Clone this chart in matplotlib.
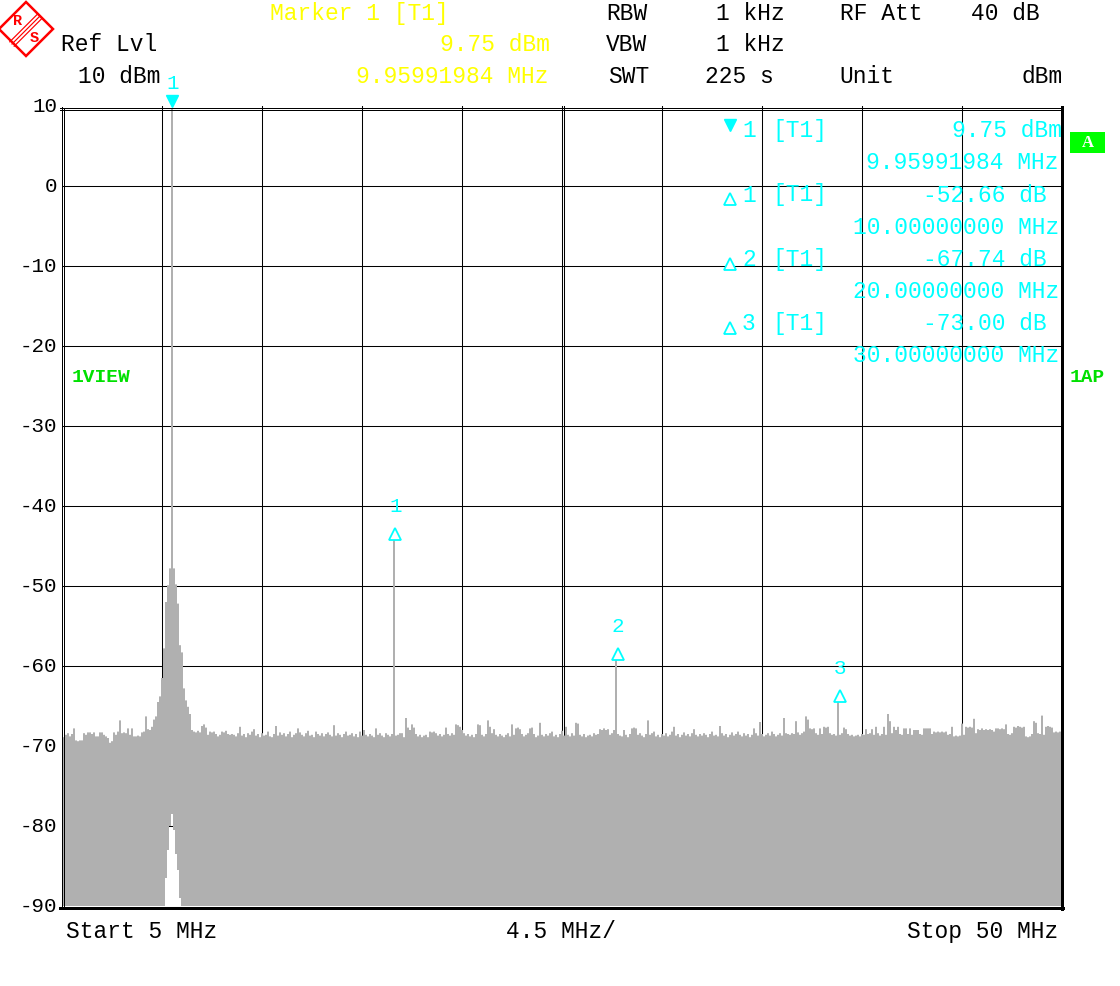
import numpy as np
import matplotlib
matplotlib.use("Agg")
import matplotlib.pyplot as plt
from matplotlib.patches import Polygon, Rectangle

# ---------------- data ----------------
start_mhz, stop_mhz = 5.0, 50.0
div_mhz = 4.5
n_points = 501
ref_level, bottom_level = 10, -90

trace_dbm = [
    -68.8, -68.9, -68.6, -68.4, -68.8, -68.5, -67.8, -69.3, -69.4, -69.3, -69.3, -68.4, -68.6, -68.3, -68.3, -68.5, -68.3, -68.8, -68.8, -68.3,
    -68.3, -68.6, -68.8, -69.0, -69.6, -69.4, -68.3, -68.6, -68.2, -66.8, -68.4, -68.3, -68.4, -67.8, -68.6, -67.8, -68.8, -68.8, -68.7, -68.8,
    -68.3, -68.2, -66.3, -67.9, -68.0, -67.6, -66.7, -66.3, -64.5, -63.8, -61.5, -57.8, -52.0, -49.9, -47.8, 9.75, -47.8, -49.8, -52.2, -57.4,
    -58.3, -62.8, -64.3, -65.1, -66.0, -68.0, -68.2, -68.3, -68.1, -68.3, -67.5, -67.3, -67.7, -68.6, -68.2, -68.3, -68.2, -68.5, -68.8, -68.6,
    -68.2, -68.3, -68.1, -68.5, -68.6, -68.5, -68.6, -68.8, -68.4, -67.6, -68.7, -68.5, -68.9, -68.4, -68.6, -68.2, -67.9, -68.7, -68.5, -68.9,
    -68.4, -68.7, -68.6, -68.2, -68.8, -68.9, -68.5, -67.5, -68.7, -68.3, -68.6, -68.4, -68.8, -68.5, -68.2, -68.9, -68.6, -68.4, -67.8, -68.3,
    -68.6, -68.8, -68.4, -68.1, -68.7, -68.6, -68.9, -68.2, -68.5, -68.7, -68.4, -68.8, -68.5, -68.3, -68.6, -68.8, -67.4, -68.7, -68.4, -68.6,
    -68.9, -68.5, -68.2, -68.7, -68.6, -68.4, -68.8, -68.5, -68.9, -68.2, -68.7, -68.0, -68.6, -68.8, -68.5, -68.7, -68.9, -67.8, -68.6, -68.4,
    -68.7, -68.9, -68.4, -68.6, -68.8, -68.5, -44.1, -68.7, -68.6, -68.4, -68.4, -68.9, -66.5, -67.7, -68.0, -67.3, -67.7, -68.5, -68.8, -68.6,
    -68.9, -68.7, -68.6, -68.9, -68.2, -68.3, -68.2, -68.4, -68.7, -68.5, -68.8, -68.6, -67.7, -68.5, -68.7, -68.4, -68.6, -67.3, -67.4, -67.6,
    -68.0, -68.4, -68.7, -68.5, -68.8, -68.6, -68.9, -68.5, -67.3, -67.4, -68.6, -68.8, -68.5, -66.8, -67.6, -68.4, -67.9, -68.6, -68.8, -68.5,
    -68.7, -68.9, -68.6, -68.4, -68.8, -67.3, -68.6, -67.8, -67.7, -67.9, -68.5, -68.8, -68.6, -68.4, -67.8, -67.7, -68.5, -68.9, -68.7, -67.1,
    -68.6, -68.8, -68.5, -68.7, -68.4, -68.2, -68.8, -68.6, -68.9, -68.5, -68.1, -68.7, -67.6, -68.6, -68.8, -68.4, -68.7, -67.1, -67.2, -68.6,
    -68.8, -68.5, -68.9, -68.7, -68.6, -68.8, -68.4, -68.6, -68.5, -67.9, -68.0, -67.8, -68.0, -67.9, -68.6, -68.4, -68.0, -59.1, -68.5, -68.7,
    -68.8, -68.0, -68.6, -68.9, -68.5, -67.8, -67.7, -67.8, -68.6, -68.4, -68.7, -68.9, -68.5, -66.8, -68.6, -68.4, -68.2, -68.8, -68.6, -68.9,
    -68.5, -68.7, -68.4, -68.8, -68.6, -68.2, -67.6, -68.7, -68.5, -68.9, -68.6, -68.3, -68.7, -68.5, -68.8, -68.4, -67.9, -68.6, -68.8, -68.5,
    -68.7, -68.4, -68.6, -68.9, -68.5, -68.2, -68.7, -68.6, -68.8, -67.5, -68.4, -68.7, -68.5, -68.9, -68.6, -68.3, -68.7, -68.5, -68.2, -68.6,
    -68.8, -68.4, -68.7, -68.5, -68.9, -68.6, -67.8, -68.4, -68.7, -67.0, -68.5, -68.8, -68.6, -68.4, -68.7, -68.2, -68.5, -68.8, -68.6, -68.4,
    -68.7, -66.5, -68.4, -68.5, -68.6, -68.4, -68.5, -66.9, -68.3, -68.6, -68.4, -68.2, -66.3, -66.7, -67.8, -67.9, -67.8, -68.4, -68.6, -67.8,
    -68.5, -67.6, -67.7, -67.6, -68.4, -68.6, -68.5, -68.7, -64.5, -68.6, -68.4, -67.7, -67.9, -68.5, -68.7, -68.6, -68.8, -68.7, -68.6, -68.8,
    -68.5, -68.6, -67.9, -68.5, -68.4, -67.9, -68.6, -67.6, -68.4, -68.7, -68.5, -67.6, -68.6, -66.0, -66.9, -68.4, -67.6, -68.0, -67.6, -68.5,
    -68.6, -67.8, -67.8, -68.5, -67.8, -68.6, -68.0, -68.0, -68.0, -68.5, -68.6, -67.8, -67.8, -67.8, -67.8, -68.5, -68.2, -68.3, -68.2, -68.3,
    -68.2, -68.3, -68.2, -68.6, -68.5, -67.6, -68.8, -68.7, -68.8, -68.7, -67.2, -68.6, -67.6, -67.7, -67.6, -67.7, -66.6, -68.4, -67.9, -68.0,
    -67.8, -68.0, -67.9, -68.0, -67.9, -68.0, -68.2, -67.8, -67.8, -67.9, -67.8, -67.9, -67.3, -68.5, -68.6, -68.4, -67.6, -67.7, -67.5, -67.6,
    -67.7, -67.6, -68.8, -68.9, -68.8, -68.5, -66.9, -67.1, -68.4, -68.5, -66.2, -68.6, -67.6, -67.5, -67.6, -67.7, -68.3, -68.2, -68.3, -68.2,
    -68.3,
]
# white notch (second trace) under the carrier, bins 51..59
notch_start_bin = 51
notch_dbm = [-90.0, -86.5, -83.0, -80.0, -78.5, -80.5, -83.5, -85.5, -89.0]

y_ticks = [10, 0, -10, -20, -30, -40, -50, -60, -70, -80, -90]
y_ticklabels = ["10", "0", "-10", "-20", "-30", "-40", "-50", "-60", "-70", "-80", "-90"]

# marker symbols (positions of the symbols as seen on screen)
main_marker_freq, main_marker_sym_level = 9.95991984, 10.6
delta_freqs = [20.0, 30.0, 40.0]
delta_sym_levels = [-43.5, -58.5, -63.75]
delta_names = ["1", "2", "3"]

# marker table
table_ids = ["1", "1", "2", "3"]
table_values = ["9.75 dBm", "-52.66 dB", "-67.74 dB", "-73.00 dB"]
table_freqs = ["9.95991984 MHz", "10.00000000 MHz", "20.00000000 MHz", "30.00000000 MHz"]

# ---------------- figure ----------------
W, H = 1120, 986
fig = plt.figure(figsize=(W / 100, H / 100), dpi=100)
fig.patch.set_facecolor("white")
MONO = "Liberation Mono"
CYAN = "#00ffff"
YEL = "#ffff00"
GREEN = "#00e000"
FILL = "#b0b0b0"
FS = 16.5

ax = fig.add_axes([62 / W, (H - 906) / H, 1000 / W, 800 / H])
ax.set_facecolor("white")
for s in ax.spines.values():
    s.set_visible(False)
ax.set_xticks([])
ax.set_yticks(y_ticks)
ax.set_yticklabels(y_ticklabels, fontfamily=MONO, fontsize=15)
ax.tick_params(axis="y", length=0, pad=3.6)
for lab in ax.get_yticklabels():
    lab.set_va("center")

# grid
for k in range(1, 10):
    ax.axvline(start_mhz + k * div_mhz, color="black", lw=0.75, zorder=1)
ax.axvline(start_mhz + 5 * div_mhz + 0.09, color="black", lw=0.75, zorder=1)
for lv in y_ticks[1:-1]:
    ax.axhline(lv, color="black", lw=0.75, zorder=1)

# trace fill
freq = np.linspace(start_mhz, stop_mhz, n_points)
trace = np.array(trace_dbm)
lower = np.full(n_points, float(bottom_level))
lower[notch_start_bin:notch_start_bin + len(notch_dbm)] = notch_dbm
ax.fill_between(freq, lower, trace, step="mid", facecolor=FILL,
                edgecolor="none", linewidth=0, zorder=2)
ax.set_xlim(start_mhz, stop_mhz)
ax.set_ylim(bottom_level, ref_level)

# markers on the trace
ax.plot([main_marker_freq], [main_marker_sym_level], marker="v", ms=9, color=CYAN,
        ls="none", clip_on=False, zorder=5)
ax.annotate("1", (main_marker_freq, main_marker_sym_level), xytext=(0, 13),
            textcoords="offset points", ha="center", va="center", color=CYAN,
            fontfamily=MONO, fontsize=15, annotation_clip=False)
ax.plot(delta_freqs, delta_sym_levels, marker="^", ms=9, mfc="white", mec=CYAN,
        mew=1.3, ls="none", zorder=5)
for f, lv, nm in zip(delta_freqs, delta_sym_levels, delta_names):
    ax.annotate(nm, (f, lv), xytext=(0, 20), textcoords="offset points",
                ha="center", va="center", color=CYAN, fontfamily=MONO, fontsize=15)

# ---------------- overlay in pixel coordinates ----------------
ov = fig.add_axes([0, 0, 1, 1], zorder=5)
ov.set_xlim(0, W)
ov.set_ylim(H, 0)
ov.axis("off")
ov.patch.set_alpha(0)

def px(v):
    return v * 0.72

# frame
ov.plot([60, 1062], [107.5, 107.5], color="black", lw=px(1))
ov.plot([60, 1062], [109.5, 109.5], color="black", lw=px(1))
ov.plot([61.5, 61.5], [107, 909], color="black", lw=px(1))
ov.plot([63.5, 63.5], [109, 909], color="black", lw=px(1))
ov.plot([1061.5, 1061.5], [107, 909], color="black", lw=px(3))
ov.plot([60, 1063], [907.5, 907.5], color="black", lw=px(3))

def T(x, y, s, color="black", ha="left", size=FS, weight="normal", family=MONO):
    ov.text(x, y, s, color=color, ha=ha, va="baseline", fontsize=size,
            fontweight=weight, fontfamily=family)

# header
T(270, 20, "Marker 1 [T1]", YEL)
T(61, 51, "Ref Lvl")
T(78, 83, "10 dBm")
T(550, 51, "9.75 dBm", YEL, ha="right")
T(549, 83, "9.95991984 MHz", YEL, ha="right")
T(606, 20, "RBW")
T(716, 20, "1 kHz")
T(840, 20, "RF Att")
T(1040, 20, "40 dB", ha="right")
T(606, 51, "VBW")
T(716, 51, "1 kHz")
T(608, 83, "SWT")
T(705, 83, "225 s")
T(839, 83, "Unit")
T(1063, 83, "dBm", ha="right")

# marker table
row_base = [137, 201.5, 266, 330]
freq_base = [169, 233.5, 297.5, 362]
for i in range(4):
    if i == 0:
        ov.plot([730], [row_base[i] - 12], marker="v", ms=9, color=CYAN, ls="none")
    else:
        ov.plot([730], [row_base[i] - 2.5], marker="^", ms=9, mfc="white", mec=CYAN,
                mew=1.3, ls="none")
    T(742, row_base[i], table_ids[i], CYAN)
    T(772, row_base[i], "[T1]", CYAN)
    if i == 0:
        T(1062, row_base[i], table_values[i], CYAN, ha="right")
    else:
        T(923, row_base[i], table_values[i], CYAN)
    T(1059, freq_base[i], table_freqs[i], CYAN, ha="right")

# side labels
T(72, 382, "1VIEW", GREEN, size=14, weight="bold")
T(1070, 382, "1AP", GREEN, size=14, weight="bold")
ov.add_patch(Rectangle((1070, 132), 35, 21, facecolor="#00ff00", edgecolor="none"))
ov.text(1087.5, 143, "A", color="white", ha="center", va="center", fontsize=12,
        fontweight="bold", fontfamily="Liberation Serif")

# bottom labels
T(66, 938, "Start 5 MHz")
T(506, 938, "4.5 MHz/")
T(1058, 938, "Stop 50 MHz", ha="right")

# R&S logo
RED = "#ff0000"
ov.add_patch(Polygon([[26, 2], [53, 29], [26, 56], [-1, 29]], closed=True,
                     facecolor="white", edgecolor=RED, lw=px(2.5)))
for d in (-2.2, 0, 2.2):
    ov.plot([12 + d, 40 + d], [44 + d, 16 + d], color=RED, lw=px(1.2))
ov.text(18, 21, "R", color=RED, ha="center", va="center", fontsize=11,
        fontfamily=MONO, fontweight="bold")
ov.text(34, 38, "S", color=RED, ha="center", va="center", fontsize=11,
        fontfamily=MONO, fontweight="bold")

fig.savefig("out.png", dpi=100, facecolor="white")
